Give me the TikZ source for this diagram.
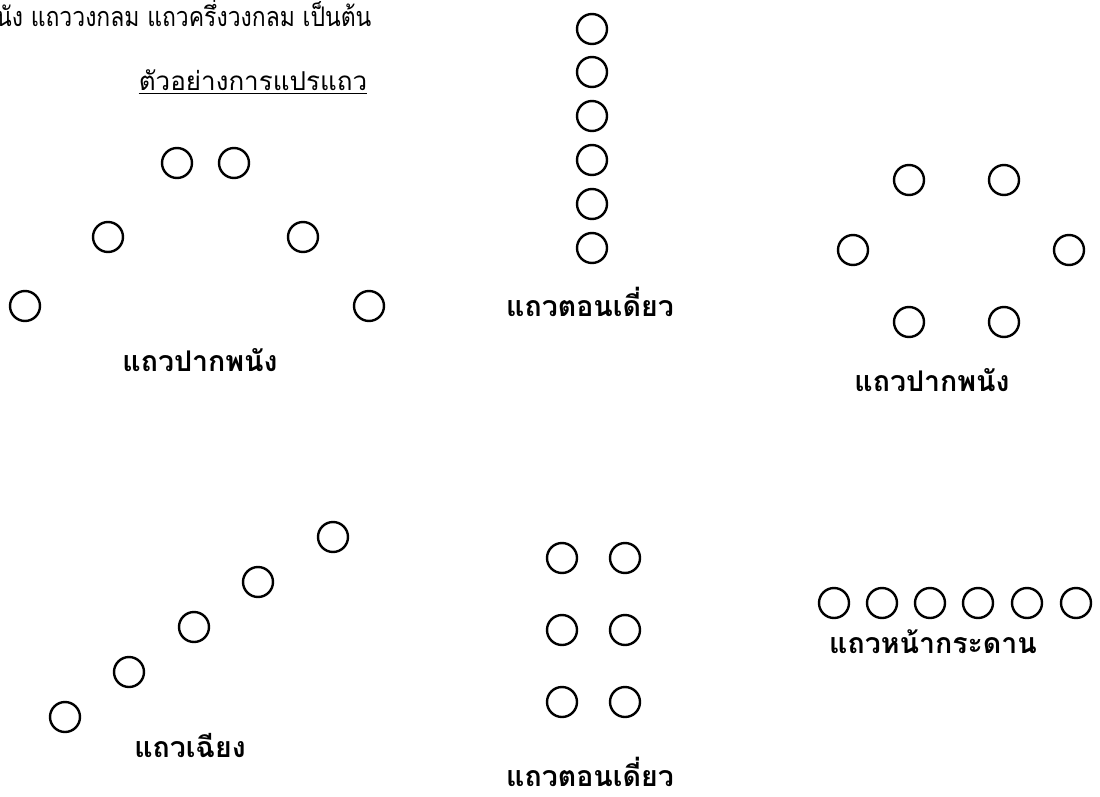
\documentclass[tikz,border=0pt]{standalone}
\usepackage{fontspec}
\newfontfamily\thai[Script=Thai]{Loma}
\newfontfamily\thainarrow[Script=Thai,FakeStretch=0.85]{Loma}
\begin{document}
\begin{tikzpicture}[x=1pt,y=-1pt,
  pers/.style={circle,draw=black,line width=2.4pt,minimum size=30pt,inner sep=0pt},
  lbl/.style={font=\thai\bfseries\fontsize{28.5}{32}\selectfont,inner sep=0pt},
  txt/.style={font=\thainarrow\fontsize{27}{31}\selectfont,inner sep=0pt}]
\useasboundingbox (0,0) rectangle (1100,797);
\clip (0,0) rectangle (1100,797);
% top clipped text
\node[txt,anchor=west] (top) at (-4,13) {นัง แถววงกลม แถวครึ่งวงกลม เป็นต้น};
\node[txt,font=\thai\fontsize{26}{30}\selectfont] (title) at (253,80) {ตัวอย่างการแปรแถว};
\draw[line width=1.2pt] ([yshift=-3pt]title.south west) -- ([yshift=-3pt]title.south east);
% left arc formation
\node[pers] (a1) at (177,163) {};
\node[pers] (a2) at (234,163) {};
\node[pers] (a3) at (108,237) {};
\node[pers] (a4) at (303,237) {};
\node[pers] (a5) at (25,306) {};
\node[pers] (a6) at (369,306) {};
\node[lbl] (la) at (200,360) {แถวปากพนัง};
% vertical single column
\foreach \i/\yy in {1/29,2/72,3/116,4/160,5/204,6/248}
  \node[pers] (b\i) at (592,\yy) {};
\node[lbl] (lb) at (590,302) {แถวตอนเดี่ยว};
% right hexagon
\node[pers] (c1) at (909,180) {};
\node[pers] (c2) at (1004,180) {};
\node[pers] (c3) at (853,250) {};
\node[pers] (c4) at (1069,250) {};
\node[pers] (c5) at (909,322) {};
\node[pers] (c6) at (1004,322) {};
\node[lbl] (lc) at (932,380) {แถวปากพนัง};
% diagonal
\node[pers] (d1) at (65,717) {};
\node[pers] (d2) at (129,672) {};
\node[pers] (d3) at (194,627) {};
\node[pers] (d4) at (258,582) {};
\node[pers] (d5) at (333,537) {};
\node[lbl] (ld) at (190,746) {แถวเฉียง};
% double column
\foreach \r/\yy in {1/558,2/630,3/702}{
  \node[pers] (e\r a) at (562,\yy) {};
  \node[pers] (e\r b) at (625,\yy) {};
}
\node[lbl] (le) at (590,772) {แถวตอนเดี่ยว};
% row
\foreach \i/\xx in {1/834,2/882,3/930,4/978,5/1027,6/1076}
  \node[pers] (f\i) at (\xx,603) {};
\node[lbl] (lf) at (933,642) {แถวหน้ากระดาน};
\end{tikzpicture}
\end{document}
